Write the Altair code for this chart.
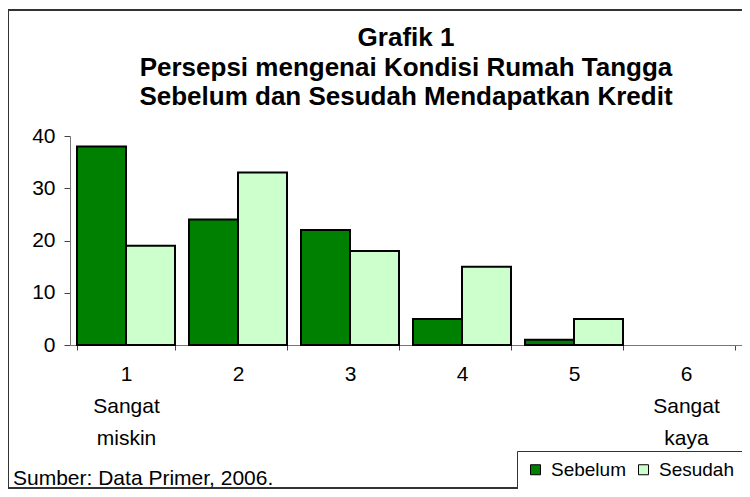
import altair as alt
import pandas as pd

kategori = ["1\nSangat\nmiskin", "2", "3", "4", "5", "6\nSangat\nkaya"]
sebelum = [38, 24, 22, 5, 1, 0]
sesudah = [19, 33, 18, 15, 5, 0]
seri = ["Sebelum", "Sesudah"]
warna = ["#008000", "#CCFFCC"]
judul = ["Grafik 1\nPersepsi mengenai Kondisi Rumah Tangga\nSebelum dan Sesudah Mendapatkan Kredit"]
sumber = ["Sumber: Data Primer, 2006."]
y_ticks = [0, 10, 20, 30, 40]

rows = []
for k, a, b in zip(kategori, sebelum, sesudah):
    rows.append({"kategori": k, "seri": seri[0], "nilai": a})
    rows.append({"kategori": k, "seri": seri[1], "nilai": b})
df = pd.DataFrame(rows)

W, H = 672, 209
FONT = "Liberation Sans"

border = alt.Chart(pd.DataFrame({"a": [0]})).mark_rect(
    fillOpacity=0, stroke="#333333", strokeWidth=2
).encode(
    x=alt.value(-62), x2=alt.value(700), y=alt.value(-126), y2=alt.value(352)
)

bars = alt.Chart(df).transform_filter("datum.nilai > 0").mark_bar(
    stroke="black", strokeWidth=2
).encode(
    x=alt.X("kategori:N", sort=kategori,
            scale=alt.Scale(domain=kategori, paddingInner=0.125, paddingOuter=0.0625),
            axis=alt.Axis(title=None, labelAngle=0, labelExpr="split(datum.label, '\\n')",
                          tickBand="extent", labelFontSize=21, labelLineHeight=32,
                          labelPadding=13, tickSize=5, domainColor="#777777",
                          tickColor="#444444", labelColor="black", labelBaseline="top",
                          labelFont=FONT)),
    xOffset=alt.XOffset("seri:N", scale=alt.Scale(domain=seri, paddingInner=0, paddingOuter=0)),
    y=alt.Y("nilai:Q", scale=alt.Scale(domain=[0, 40], nice=False),
            axis=alt.Axis(values=y_ticks, title=None, grid=False, labelFontSize=21,
                          tickSize=6, labelPadding=9, domainColor="#777777",
                          tickColor="#444444", labelColor="black", labelFont=FONT)),
    color=alt.Color("seri:N", scale=alt.Scale(domain=seri, range=warna),
                    legend=alt.Legend(title=None, orient="none", legendX=447, legendY=315,
                                      direction="horizontal", symbolType="square",
                                      symbolSize=100, symbolStrokeColor="black",
                                      symbolStrokeWidth=1, labelFontSize=19, labelFont=FONT,
                                      labelColor="black",
                                      strokeColor="#333333", fillColor="white", padding=9,
                                      columnPadding=8, labelOffset=6)),
)

ttl = alt.Chart(pd.DataFrame({"t": judul})).mark_text(
    align="center", baseline="alphabetic", fontSize=26, fontWeight="bold", font=FONT,
    color="black", lineBreak="\n", lineHeight=29.5
).encode(text="t:N", x=alt.value(W / 2), y=alt.value(-90))

src = alt.Chart(pd.DataFrame({"t": sumber})).mark_text(
    align="left", baseline="middle", fontSize=21, font=FONT, color="black"
).encode(text="t:N", x=alt.value(-57), y=alt.value(343))

chart = alt.layer(border, bars, ttl, src).properties(
    width=W, height=H,
    autosize=alt.AutoSizeParams(type="none"),
    padding={"left": 62, "top": 128, "right": 0, "bottom": 144},
).configure_view(stroke=None)

chart.save("out.html", embed_options={"renderer": "svg", "actions": False})
